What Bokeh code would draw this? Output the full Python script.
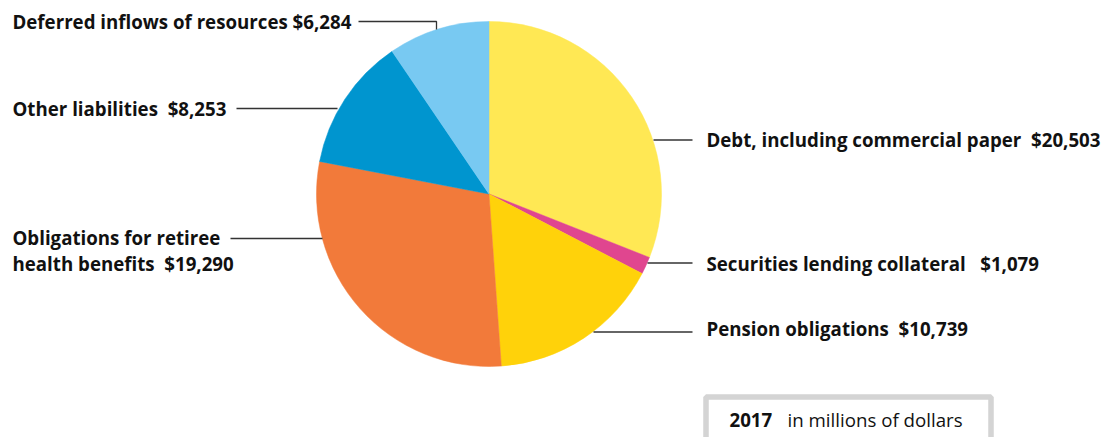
import math
from bokeh.plotting import figure
from bokeh.models import Range1d, ColumnDataSource
from bokeh.core.properties import value
from bokeh.embed import file_html
from bokeh.resources import INLINE

# ---- data ----
categories = ["Debt, including commercial paper", "Securities lending collateral",
              "Pension obligations", "Obligations for retiree health benefits",
              "Other liabilities", "Deferred inflows of resources"]
amounts = [20503, 1079, 10739, 19290, 8253, 6284]
colors = ["#FFE854", "#E0468F", "#FFD20A", "#F27A3A", "#0095CF", "#78C9F2"]
year_label = "2017"
unit_label = "in millions of dollars"

W, H = 1107, 437
FONT = "Open Sans"
FS = "18.7px"
NB = "\u00a0"

def py(y):
    # picture pixel y -> data y
    return H - y

p = figure(width=W, height=H, output_backend="svg", toolbar_location=None,
           x_range=Range1d(0, W), y_range=Range1d(0, H), min_border=0)
p.axis.visible = False
p.grid.visible = False
p.outline_line_color = None
p.background_fill_color = "white"
p.border_fill_color = "white"

total = float(sum(amounts))
starts, ends = [], []
cum = 0.0
for a in amounts:
    starts.append(math.pi / 2 - cum / total * 2 * math.pi)
    cum += a
    ends.append(math.pi / 2 - cum / total * 2 * math.pi)

cx, cy, r = 488.5, py(193.5), 172.5
src = ColumnDataSource(dict(start=starts, end=ends, color=colors,
                            x=[cx] * len(amounts), y=[cy] * len(amounts)))
p.wedge(x="x", y="y", radius=r, start_angle="start", end_angle="end",
        direction="clock", fill_color="color", line_color="color", line_width=0.5,
        source=src)

def fmt(v):
    return "${:,}".format(v)

# leader lines (layout)
lines = [
    ([358, 436, 436], [21, 21, 29]),
    ([236, 337], [108, 108]),
    ([230, 322], [238, 238]),
    ([653, 692], [139.5, 139.5]),
    ([647, 692], [262.5, 262.5]),
    ([593, 692], [331.5, 331.5]),
]
for xs, ys in lines:
    p.line(xs, [py(v) for v in ys], line_color="#333333", line_width=1.3)

labels = [
    (12, 21, categories[5] + " " + fmt(amounts[5])),
    (12, 108, categories[4] + NB + " " + fmt(amounts[4])),
    (12, 237, "Obligations for retiree"),
    (12, 263, "health benefits" + NB + " " + fmt(amounts[3])),
    (706, 139, categories[0] + NB + " " + fmt(amounts[0])),
    (706, 263, categories[1] + NB + NB + " " + fmt(amounts[1])),
    (706, 328, categories[2] + NB + " " + fmt(amounts[2])),
]
p.text(x=[l[0] for l in labels], y=[py(l[1]) for l in labels],
       text=[l[2] for l in labels], text_font=value(FONT), text_font_size=FS,
       text_font_style="bold", text_baseline="middle", text_align="left",
       text_color="#111111")

# units box
p.quad(left=[705.5], right=[990.5], top=[py(396.5)], bottom=[py(460)],
       fill_color=None, line_color="#D4D4D4", line_width=5.5)
p.text(x=[729], y=[py(419)], text=[year_label], text_font=value(FONT),
       text_font_size=FS, text_font_style="bold", text_baseline="middle",
       text_color="#111111")
p.text(x=[787], y=[py(419)], text=[unit_label], text_font=value(FONT),
       text_font_size=FS, text_baseline="middle", text_color="#111111")

open("out.html", "w").write(file_html(p, INLINE))
